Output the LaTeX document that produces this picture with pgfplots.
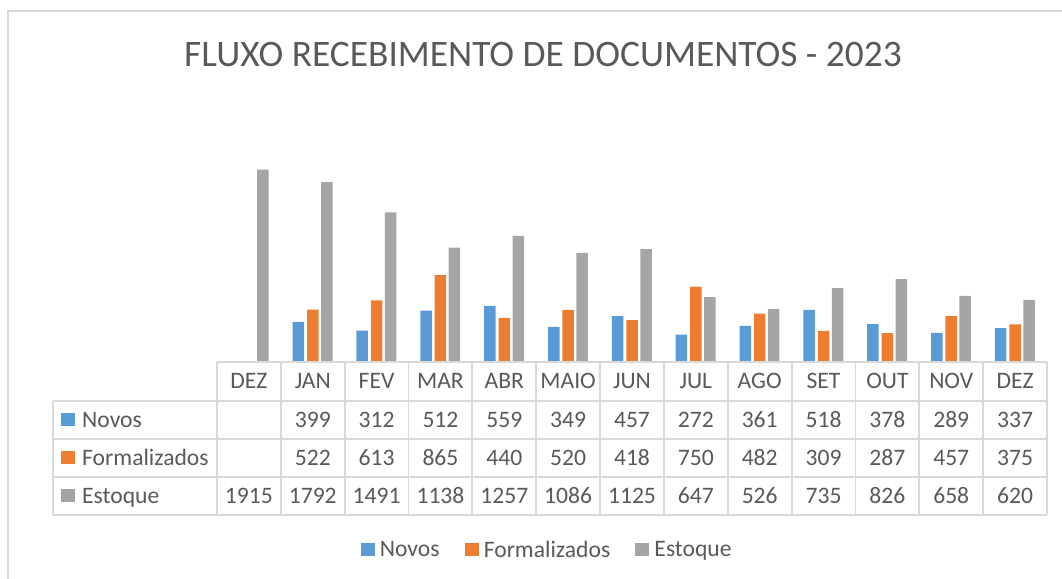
\documentclass[border=0pt]{standalone}
\usepackage{pgfplots}
\pgfplotsset{compat=1.18}
\usepackage{pgfplotstable}
\usepackage{fontspec}
\setmainfont{Carlito}

\definecolor{cNovos}{HTML}{5B9BD5}
\definecolor{cForm}{HTML}{ED7D31}
\definecolor{cEst}{HTML}{A5A5A5}
\definecolor{txt}{HTML}{595959}
\definecolor{linha}{HTML}{D9D9D9}

% x = posicao da coluna (0 = DEZ/2022)
\pgfplotstableread{
x  novos formal estoque
0  nan   nan    1915
1  399   522    1792
2  312   613    1491
3  512   865    1138
4  559   440    1257
5  349   520    1086
6  457   418    1125
7  272   750    647
8  361   482    526
9  518   309    735
10 378   287    826
11 289   457    658
12 337   375    620
}\dados

\newcommand{\tabfont}{\fontsize{11.8}{14}\selectfont}

\begin{document}
\begin{tikzpicture}
\pgfplotsset{
  sq legend/.style={legend image code/.code={
      \fill[##1] (0pt,-2.6pt) rectangle (7pt,4.1pt);}},
  linha tab/.style={
    draw=none, mark=none, forget plot, nodes near coords,
    point meta=explicit symbolic,
    every node near coord/.append style={anchor=base, inner sep=0pt,
      yshift=#1, text=txt, font=\tabfont}},
}
\begin{axis}[
    at={(0pt,0pt)}, anchor=south west,
    scale only axis, width=415pt, height=125.5pt,
    xmin=-0.5, xmax=12.5, ymin=0, ymax=2500,
    clip=false,
    axis line style={draw=none},
    major tick length=0pt,
    ytick=\empty,
    xtick={0,...,12},
    xticklabels={DEZ,JAN,FEV,MAR,ABR,MAIO,JUN,JUL,AGO,SET,OUT,NOV,DEZ},
    xticklabel style={anchor=base, inner sep=0pt, yshift=-13.4pt,
      text=txt, font=\tabfont},
    legend style={draw=none, at={(0.399,-0.752)}, anchor=center,
      legend columns=-1, font=\tabfont, text=txt,
      /tikz/every odd column/.append style={column sep=0.6pt},
      /tikz/every even column/.append style={column sep=10.5pt}},
  ]
  \addplot[ybar, sq legend, fill=cNovos, draw=none, bar width=5.75pt,
    bar shift=-7.2pt] table[x=x, y=novos] {\dados};
  \addlegendentry{Novos}
  \addplot[ybar, sq legend, fill=cForm, draw=none, bar width=5.75pt,
    bar shift=0pt] table[x=x, y=formal] {\dados};
  \addlegendentry{Formalizados}
  \addplot[ybar, sq legend, fill=cEst, draw=none, bar width=5.75pt,
    bar shift=7pt] table[x=x, y=estoque] {\dados};
  \addlegendentry{Estoque}

  % linhas da tabela de dados
  \addplot[linha tab=-32.5pt, skip coords between index={0}{1}]
    table[x=x, y expr=0, meta=novos] {\dados};
  \addplot[linha tab=-51.5pt, skip coords between index={0}{1}]
    table[x=x, y expr=0, meta=formal] {\dados};
  \addplot[linha tab=-70.5pt]
    table[x=x, y expr=0, meta=estoque] {\dados};
\end{axis}

% grade da tabela
\begin{scope}[draw=linha, line width=0.9pt]
  \draw (0pt,0pt) -- (415pt,0pt);
  \foreach \y in {-19.3,-38.3,-57.3,-76.3}
    \draw (-82pt,\y pt) -- (415pt,\y pt);
  \draw (-82pt,-19.3pt) -- (-82pt,-76.3pt);
  \foreach \k in {0,...,13}
    \draw ({\k*415/13*1pt},0pt) -- ({\k*415/13*1pt},-76.3pt);
\end{scope}

% rotulos das linhas
\foreach \y/\c/\t in {-28.8/cNovos/Novos,-47.8/cForm/Formalizados,-66.8/cEst/Estoque}{
  \fill[\c] (-78pt,{\y*1pt-3.35pt}) rectangle (-71pt,{\y*1pt+3.35pt});
  \node[anchor=base west, inner sep=0pt, text=txt, font=\tabfont]
    at (-67.6pt,{\y*1pt-3.7pt}) {\t};
}

% titulo
\node[anchor=base, inner sep=0pt, text=txt, font=\fontsize{18.7}{22}\selectfont]
  at (163pt,147.6pt) {FLUXO RECEBIMENTO DE DOCUMENTOS - 2023};

% borda do grafico
\draw[linha, line width=0.6pt] (-104.5pt,175.5pt) rectangle (440pt,-130pt);

\pgfresetboundingbox
\path[use as bounding box] (-108.5pt,-108.5pt) rectangle (422.5pt,181pt);
\end{tikzpicture}
\end{document}
